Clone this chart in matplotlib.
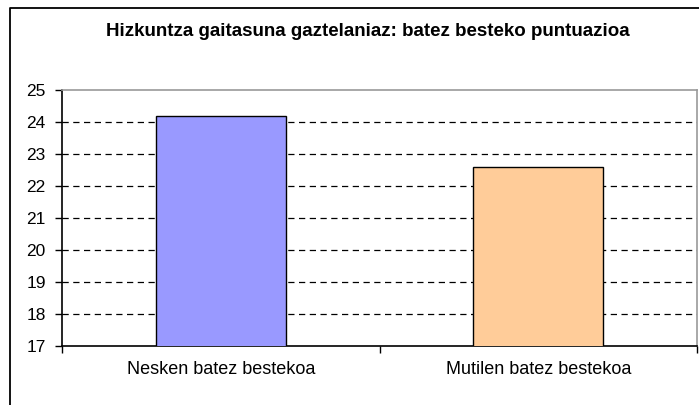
import matplotlib.pyplot as plt
from matplotlib.lines import Line2D

# Datos del gráfico
categorias = ['Nesken batez bestekoa', 'Mutilen batez bestekoa']
valores = [24.2, 22.6]
colores = ['#9999FF', '#FFCC99']
titulo = 'Hizkuntza gaitasuna gaztelaniaz: batez besteko puntuazioa'

W, H = 699, 405
plt.rcParams['font.family'] = ['Liberation Sans', 'DejaVu Sans']

fig = plt.figure(figsize=(W / 100, H / 100), dpi=100)
ax = fig.add_axes([62.3 / W, (H - 346) / H, (697 - 62.3) / W, (346 - 90) / H])

x = list(range(len(categorias)))
ax.bar(x, valores, width=0.41, color=colores, edgecolor='black', linewidth=1.0,
       bottom=0, zorder=3)

ax.set_ylim(17, 25)
ax.set_xlim(-0.5, 1.5)
ax.set_yticks(range(17, 26))
ax.tick_params(axis='y', labelsize=12.5, length=5, width=1, pad=7, direction='out')

# Marcas en los límites de las categorías, etiquetas en el centro
ax.set_xticks([-0.5, 0.5, 1.5])
ax.set_xticklabels(['', '', ''])
ax.set_xticks(x, minor=True)
ax.set_xticklabels(categorias, minor=True)
ax.tick_params(axis='x', which='major', length=5, width=1, direction='out')
ax.tick_params(axis='x', which='minor', length=0, labelsize=13, pad=11)

# Rejilla discontinua
for v in range(18, 25):
    ax.axhline(v, color='black', linewidth=0.9, linestyle=(0, (5, 3.6)), zorder=1)

for s in ['left', 'bottom']:
    ax.spines[s].set_color('black')
    ax.spines[s].set_linewidth(1.2)
for s in ['top', 'right']:
    ax.spines[s].set_color('#999999')
    ax.spines[s].set_linewidth(1.2)

# Título
fig.text(368 / W, 1 - 32 / H, titulo, ha='center', va='center',
         fontsize=13.5, fontweight='bold')

# Marco exterior del área del gráfico
fig.add_artist(Line2D([10 / W, 10 / W, 1], [0, 1 - 8 / H, 1 - 8 / H],
                      transform=fig.transFigure, color='black', linewidth=1.3))

fig.savefig('out.png', dpi=100)
